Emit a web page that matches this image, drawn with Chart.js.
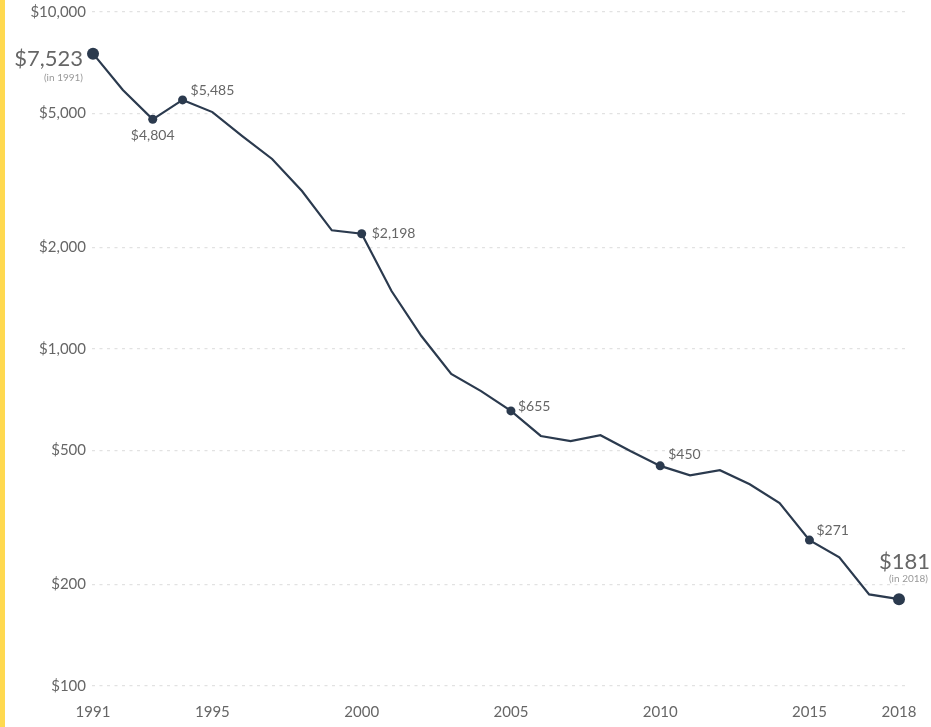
<!DOCTYPE html>
<html lang="en">
  <head>
    <meta charset="UTF-8" />
    <title>Price per year, 1991-2018</title>
    <style>
      body {
        margin: 0;
        background-color: #ffffff;
      }
      .stripe {
        position: absolute;
        left: 0;
        top: 0;
        width: 5px;
        height: 727px;
        background-color: #ffd94f;
        z-index: 2;
      }
      .container {
        position: relative;
        width: 931px;
        height: 727px;
      }
    </style>
  </head>
  <body>
    <div class="stripe"></div>
    <div class="container">
      <canvas id="myChart"></canvas>
    </div>

    <script src="https://cdn.jsdelivr.net/npm/chart.js"></script>
    <script>
      const years = [
        1991, 1992, 1993, 1994, 1995, 1996, 1997, 1998, 1999, 2000, 2001, 2002,
        2003, 2004, 2005, 2006, 2007, 2008, 2009, 2010, 2011, 2012, 2013, 2014,
        2015, 2016, 2017, 2018,
      ];
      const prices = [
        7523, 5870, 4804, 5485, 5046, 4285, 3663, 2943, 2250, 2198, 1486, 1093,
        843, 750, 655, 552, 533, 555, 498, 450, 422, 437, 397, 349, 271, 241,
        187, 181,
      ];
      const xTicks = [1991, 1995, 2000, 2005, 2010, 2015, 2018];
      const yTicks = [100, 200, 500, 1000, 2000, 5000, 10000];

      // years that get a dot + a price label
      const markedYears = [1993, 1994, 2000, 2005, 2010, 2015];
      const endYears = [1991, 2018];

      const lineColor = "#2b3a4e";
      const textColor = "#666666";
      const fontFamily = "Lato, 'Open Sans', sans-serif";

      const fmt = (v) => "$" + v.toLocaleString("en-US");

      const points = years.map((y, i) => ({ x: y, y: prices[i] }));
      const radii = years.map((y) =>
        endYears.includes(y) ? 6 : markedYears.includes(y) ? 4.5 : 0
      );

      // where each price label sits relative to its dot (style only)
      const labelPlace = {
        1993: { dx: 0, dy: 16, align: "center" },
        1994: { dx: 8, dy: -9, align: "left" },
        2000: { dx: 10, dy: 0, align: "left" },
        2005: { dx: 7, dy: -4, align: "left" },
        2010: { dx: 8, dy: -11, align: "left" },
        2015: { dx: 7, dy: -10, align: "left" },
      };

      const priceLabels = {
        id: "priceLabels",
        afterDatasetsDraw(chart) {
          const { ctx, scales } = chart;
          const px = (yr) => scales.x.getPixelForValue(yr);
          const py = (yr) => scales.y.getPixelForValue(prices[years.indexOf(yr)]);
          ctx.save();
          ctx.textBaseline = "middle";
          ctx.fillStyle = textColor;
          ctx.font = "14px " + fontFamily;
          markedYears.forEach((yr) => {
            const p = labelPlace[yr];
            ctx.textAlign = p.align;
            ctx.fillText(fmt(prices[years.indexOf(yr)]), px(yr) + p.dx, py(yr) + p.dy);
          });

          // first year: big label to the left of the dot
          const x0 = px(1991) - 10;
          const y0 = py(1991);
          ctx.textAlign = "right";
          ctx.font = "22px " + fontFamily;
          ctx.fillText(fmt(prices[0]), x0, y0 + 5);
          ctx.font = "10px " + fontFamily;
          ctx.fillStyle = "#999999";
          ctx.fillText("(in 1991)", x0, y0 + 24);

          // last year: big label above the dot
          const x1 = px(2018) + 31;
          const y1 = py(2018);
          ctx.fillStyle = textColor;
          ctx.font = "22px " + fontFamily;
          ctx.fillText(fmt(prices[prices.length - 1]), x1, y1 - 37);
          ctx.font = "10px " + fontFamily;
          ctx.fillStyle = "#999999";
          ctx.fillText("(in 2018)", x1 - 2, y1 - 20);
          ctx.restore();
        },
      };

      const config = {
        type: "line",
        data: {
          datasets: [
            {
              data: points,
              borderColor: lineColor,
              backgroundColor: lineColor,
              borderWidth: 2.2,
              pointRadius: radii,
              pointHoverRadius: radii,
              pointBorderWidth: 0,
              tension: 0,
              clip: false,
            },
          ],
        },
        options: {
          responsive: true,
          maintainAspectRatio: false,
          animation: false,
          layout: {
            padding: { top: 12, right: 24, bottom: 0, left: 0 },
          },
          plugins: {
            legend: { display: false },
            tooltip: { enabled: false },
          },
          scales: {
            x: {
              type: "linear",
              min: 1990.966,
              max: 2018.268,
              afterBuildTicks: (scale) => {
                scale.ticks = xTicks.map((v) => ({ value: v }));
              },
              afterFit: (scale) => {
                scale.height = 41;
                scale.paddingLeft = 0;
                scale.paddingRight = 0;
              },
              grid: { display: false, drawTicks: false },
              border: { display: false },
              ticks: {
                padding: 17,
                color: textColor,
                font: { family: fontFamily, size: 15 },
                maxRotation: 0,
                autoSkip: false,
                callback: (v) => String(v),
              },
            },
            y: {
              type: "logarithmic",
              min: 100,
              max: 10000,
              afterBuildTicks: (scale) => {
                scale.ticks = yTicks.map((v) => ({ value: v }));
              },
              afterFit: (scale) => {
                scale.width = 92;
                scale.paddingTop = 0;
                scale.paddingBottom = 0;
              },
              grid: {
                color: "#e2e2e2",
                lineWidth: 1.2,
                drawTicks: false,
              },
              border: { display: false, dash: [3, 4.5] },
              ticks: {
                padding: 6,
                color: textColor,
                font: { family: fontFamily, size: 15 },
                autoSkip: false,
                callback: (v) => fmt(v),
              },
            },
          },
        },
        plugins: [priceLabels],
      };

      const ctx = document.getElementById("myChart");
      new Chart(ctx, config);
    </script>
  </body>
</html>
